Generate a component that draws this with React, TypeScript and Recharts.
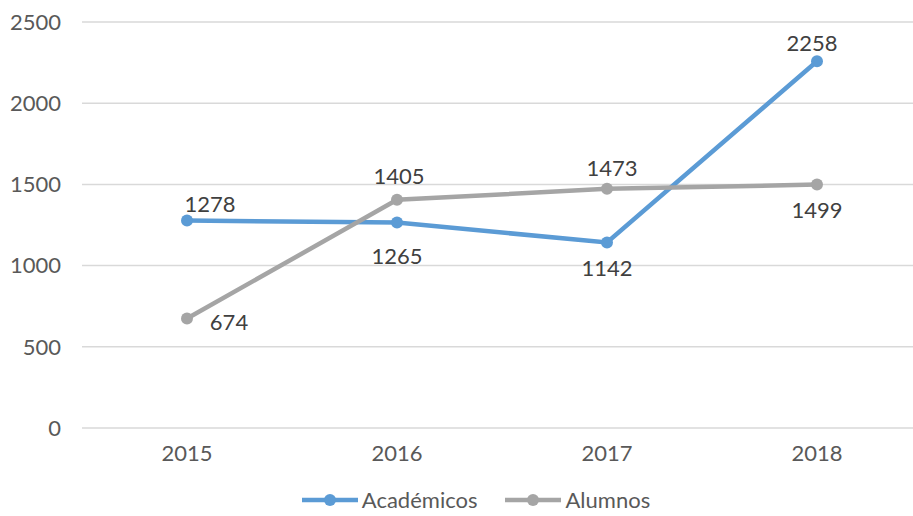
import { LineChart, Line, XAxis, YAxis, CartesianGrid, Legend, LabelList } from 'recharts';

const years = ['2015', '2016', '2017', '2018'];
const academicos = [1278, 1265, 1142, 2258];
const alumnos = [674, 1405, 1473, 1499];
const yTicks = [0, 500, 1000, 1500, 2000, 2500];

const data = years.map((year, i) => ({ year, academicos: academicos[i], alumnos: alumnos[i] }));

const FONT = 'Lato, "Open Sans", sans-serif';
const FONT_SIZE = 22;
const BLUE = '#5B9BD5';
const GRAY = '#A5A5A5';

// label offsets relative to each point (dx, dy)
const academicosLabelOffset = [
  [23, -17],
  [0, 33],
  [0, 25],
  [-5, -19],
];
const alumnosLabelOffset = [
  [42, 3],
  [2, -24],
  [5, -21],
  [0, 25],
];

function makeLabel(offsets: number[][]) {
  return (props: any) => {
    const { x, y, value, index } = props;
    const [dx, dy] = offsets[index] || [0, 0];
    return (
      <text
        x={x + dx}
        y={y + dy}
        textAnchor="middle"
        dominantBaseline="central"
        fontSize={FONT_SIZE}
        fontFamily={FONT}
        fill="#404040"
      >
        {value}
      </text>
    );
  };
}

function LegendContent() {
  const items = [
    { name: 'Académicos', color: BLUE },
    { name: 'Alumnos', color: GRAY },
  ];
  return (
    <div style={{ display: 'flex', justifyContent: 'center', gap: 28, paddingLeft: 30, fontFamily: FONT, fontSize: FONT_SIZE, color: '#595959' }}>
      {items.map((it) => (
        <div key={it.name} style={{ display: 'flex', alignItems: 'center' }}>
          <svg width={56} height={16} style={{ marginRight: 4 }}>
            <line x1={0} y1={8} x2={56} y2={8} stroke={it.color} strokeWidth={4.5} />
            <circle cx={28} cy={8} r={6} fill={it.color} />
          </svg>
          <span>{it.name}</span>
        </div>
      ))}
    </div>
  );
}

export default function App() {
  return (
    <div style={{ position: 'absolute', left: 0, top: 0, width: 913, height: 516, overflow: 'hidden', background: '#fff' }}>
      <LineChart width={922} height={516} data={data} margin={{ top: 22, right: 0, bottom: 0, left: 0 }}>
        <CartesianGrid vertical={false} stroke="#D9D9D9" strokeWidth={1.5} />
        <XAxis
          dataKey="year"
          axisLine={false}
          tickLine={false}
          tickSize={0}
          tickMargin={17}
          height={58}
          padding={{ left: 105, right: 105 }}
          tick={{ fontSize: FONT_SIZE, fontFamily: FONT, fill: '#595959' }}
        />
        <YAxis
          domain={[0, 2500]}
          ticks={yTicks}
          axisLine={false}
          tickLine={false}
          tickSize={0}
          tickMargin={21}
          width={82}
          tick={{ fontSize: FONT_SIZE, fontFamily: FONT, fill: '#595959' }}
        />
        <Legend verticalAlign="bottom" height={30} content={<LegendContent />} />
        <Line
          dataKey="academicos"
          name="Académicos"
          stroke={BLUE}
          strokeWidth={4.5}
          dot={{ r: 6, fill: BLUE, stroke: 'none' }}
          activeDot={false}
          isAnimationActive={false}
        >
          <LabelList dataKey="academicos" content={makeLabel(academicosLabelOffset)} />
        </Line>
        <Line
          dataKey="alumnos"
          name="Alumnos"
          stroke={GRAY}
          strokeWidth={4.5}
          dot={{ r: 6, fill: GRAY, stroke: 'none' }}
          activeDot={false}
          isAnimationActive={false}
        >
          <LabelList dataKey="alumnos" content={makeLabel(alumnosLabelOffset)} />
        </Line>
      </LineChart>
    </div>
  );
}
